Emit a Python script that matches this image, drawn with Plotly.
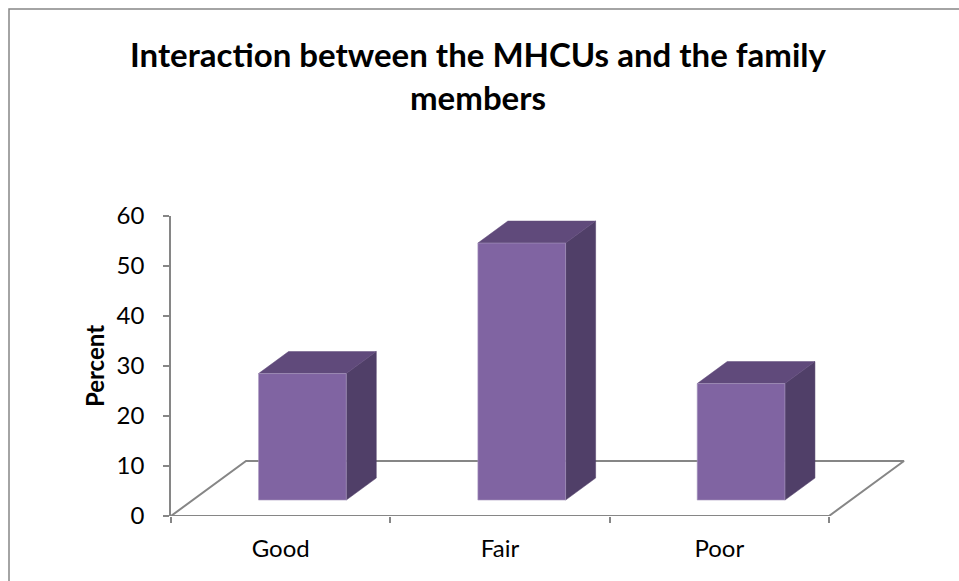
import plotly.graph_objects as go

# ---- data ----
categories = ["Good", "Fair", "Poor"]
percent = [25.3, 51.4, 23.3]
y_ticks = [0, 10, 20, 30, 40, 50, 60]
title_text = "Interaction between the MHCUs and the family<br>members"
y_title = "Percent"

# ---- styling / projection (oblique 3D look) ----
FONT = "Lato"
FRONT = "#8064A2"
TOP = "#604A7B"
SIDE = "#503F68"
EDGE = "#A99BC0"
AXIS = "#868686"

DX = 0.342   # depth shift along x (category units) for full floor depth
DY = 11.0    # depth shift along y (value units) for full floor depth
D0, D1 = 0.29, 0.69   # bar front / back depth fractions
BW = 0.40             # bar width in category units

W, H = 959, 581
L, R, T, B = 171, 49, 216, 65
PW, PH = W - L - R, H - T - B
px_per_cat = 219.33
x_range = [-0.5, -0.5 + PW / px_per_cat]

fig = go.Figure()

# floor parallelogram
n = len(categories)
fx = [-0.5, n - 0.5, n - 0.5 + DX, -0.5 + DX, -0.5]
fy = [0, 0, DY, DY, 0]
fig.add_trace(go.Scatter(x=fx, y=fy, mode="lines",
                         line=dict(color=AXIS, width=2),
                         hoverinfo="skip", showlegend=False))

def poly(xs, ys, color):
    fig.add_trace(go.Scatter(x=xs + [xs[0]], y=ys + [ys[0]], mode="lines",
                             fill="toself", fillcolor=color,
                             line=dict(color=color, width=0.5),
                             hoverinfo="skip", showlegend=False))

for i, (cat, v) in enumerate(zip(categories, percent)):
    xl = i - BW / 2
    xr = i + BW / 2
    fxl, fxr = xl + D0 * DX, xr + D0 * DX
    bxl, bxr = xl + D1 * DX, xr + D1 * DX
    fy0, fy1 = D0 * DY, v + D0 * DY
    by0, by1 = D1 * DY, v + D1 * DY
    poly([fxr, bxr, bxr, fxr], [fy0, by0, by1, fy1], SIDE)      # side face
    poly([fxl, fxr, bxr, bxl], [fy1, fy1, by1, by1], TOP)       # top face
    fig.add_trace(go.Scatter(x=[fxl, fxr, fxr, fxl, fxl], y=[fy0, fy0, fy1, fy1, fy0],
                             mode="lines", fill="toself", fillcolor=FRONT,
                             line=dict(color=EDGE, width=0.6),
                             name=cat, hovertemplate=f"{cat}: {v}%<extra></extra>",
                             showlegend=False))

# chart border (extends past right / bottom edges)
fig.add_shape(type="rect", xref="paper", yref="paper",
              x0=(9 - L) / PW, x1=(W + 10 - L) / PW,
              y0=(H - B - (H + 10)) / PH, y1=(H - B - 9) / PH,
              line=dict(color=AXIS, width=1.5), layer="below")

fig.update_layout(
    width=W, height=H,
    margin=dict(l=L, r=R, t=T, b=B, autoexpand=False),
    paper_bgcolor="white", plot_bgcolor="white",
    font=dict(family=FONT, color="black"),
    title=dict(text=f"<b>{title_text}</b>", x=478 / W, xref="container", xanchor="center",
               y=(H - 67) / H, yref="container", yanchor="middle",
               font=dict(family=FONT, size=33, color="black")),
    xaxis=dict(range=x_range, showgrid=False, zeroline=False, showline=False,
               tickmode="array", tickvals=list(range(n)), ticktext=categories,
               ticks="", tickfont=dict(size=24, color="black"),
               ticklabelstandoff=16,
               minor=dict(tickmode="array", tickvals=[k - 0.5 for k in range(n + 1)],
                          ticks="outside", ticklen=6, tickwidth=1.5, tickcolor=AXIS),
               fixedrange=True),
    yaxis=dict(range=[0, 60], tickmode="array", tickvals=y_ticks,
               showgrid=False, zeroline=False, showline=True,
               linecolor=AXIS, linewidth=1.5, ticks="outside", ticklen=6,
               tickwidth=1.5, tickcolor=AXIS, tickfont=dict(size=24, color="black"),
               ticklabelstandoff=14,
               title=dict(text=f"<b>{y_title}</b>", font=dict(size=24, color="black"),
                          standoff=5),
               fixedrange=True),
)

fig.write_html("out.html", config={"displayModeBar": False},
               post_script="document.body.style.margin='0';")
